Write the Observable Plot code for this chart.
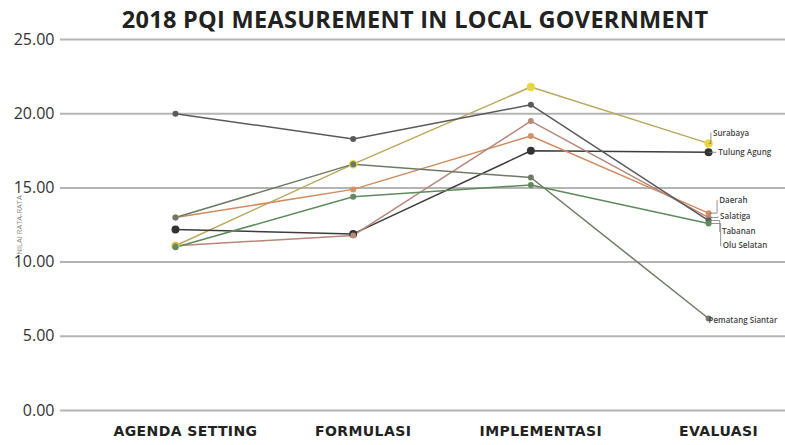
<!DOCTYPE html>
<html>
<head>
<meta charset="utf-8">
<script src="https://cdn.jsdelivr.net/npm/d3@7"></script>
<script src="https://cdn.jsdelivr.net/npm/@observablehq/plot@0.6"></script>
<style>
  body { margin: 0; background: #fff; width: 785px; height: 445px; overflow: hidden; }
  #title { height: 28px; line-height: 28px; font-family: "Open Sans", sans-serif; font-weight: 700; font-size: 23.5px; color: #222; text-align: center; padding-left: 45px; box-sizing: border-box; width: 785px; white-space: nowrap; position: relative; top: 5px; letter-spacing: 0.3px; }
  #chart svg g[aria-label="x-axis tick label"] text { font-family: "DejaVu Sans", sans-serif; letter-spacing: 0.4px; }
</style>
</head>
<body>
<div id="title">2018 PQI MEASUREMENT IN LOCAL GOVERNMENT</div>
<div id="chart"></div>
<script>
// ---- data ----
const categories = ["AGENDA SETTING", "FORMULASI", "IMPLEMENTASI", "EVALUASI"];
const yTicks = [0, 5, 10, 15, 20, 25];
const seriesNames = ["Surabaya", "Tulung Agung", "Daerah", "Salatiga", "Tabanan", "Olu Selatan", "Pematang Siantar"];
const surabaya        = [11.1, 16.6, 21.8, 18.0];
const tulungAgung     = [12.2, 11.9, 17.5, 17.4];
const daerah          = [13.0, 14.9, 18.5, 13.3];
const salatiga        = [11.1, 11.8, 19.5, 13.0];
const tabanan         = [20.0, 18.3, 20.6, 12.8];
const oluSelatan      = [11.0, 14.4, 15.2, 12.6];
const pematangSiantar = [13.0, 16.6, 15.7, 6.2];
// label anchor values (data units) for the right-hand annotations
const labelAt = [18.7, 17.4, 14.15, 13.05, 12.05, 11.1, 6.1];

// ---- styling ----
const seriesValues = [surabaya, tulungAgung, daerah, salatiga, tabanan, oluSelatan, pematangSiantar];
const lineColors = ["#b9a85e", "#3c3c3c", "#cf8c62", "#b5877a", "#5a5a5a", "#5f8a5c", "#6f7a66"];
const dotColors  = ["#e6d640", "#333333", "#d79060", "#b88a7c", "#5a5a5a", "#5f8a5c", "#6f7a66"];
const dotR       = [4, 3.5, 2, 2, 2, 2, 2];
const labelDx    = [0.025, 0.055, 0.06, 0.065, 0.075, 0.08, 0.0];

const rows = [];
seriesNames.forEach((name, s) => {
  seriesValues[s].forEach((v, i) => rows.push({name, s, i, value: v}));
});
const labels = seriesNames.map((name, s) => ({
  name, s, end: seriesValues[s][3], at: labelAt[s], lx: 3 + labelDx[s]
}));
const leaders = [];
labels.forEach(l => {
  if (l.s === 6) return;
  leaders.push({s: l.s, x: 3.003, y: l.end});
  leaders.push({s: l.s, x: l.lx - 0.012, y: l.at});
});

const chart = Plot.plot({
  width: 785,
  height: 417,
  marginTop: 11,
  marginBottom: 35,
  marginLeft: 60,
  marginRight: 0,
  style: { fontFamily: "Open Sans, sans-serif", background: "#fff", overflow: "visible" },
  x: { type: "linear", domain: [-0.647, 3.433], label: null },
  y: { domain: [0, 25], label: null },
  marks: [
    Plot.ruleY(yTicks, { stroke: "#b4b4b4", strokeWidth: 2 }),
    Plot.line(rows, { x: "i", y: "value", z: "name", stroke: d => lineColors[d.s], strokeWidth: 1.5 }),
    Plot.dot(rows, { x: "i", y: "value", r: d => dotR[d.s], fill: d => dotColors[d.s], stroke: "none" }),
    Plot.line(leaders, { x: "x", y: "y", z: "s", stroke: "#777", strokeWidth: 0.8, curve: "step-after" }),
    Plot.text(labels, { x: "lx", y: "at", text: "name", textAnchor: "start", fontSize: 8, fill: "#444", fontWeight: 600 }),
    Plot.axisY({ ticks: yTicks, tickFormat: d3.format(".2f"), tickSize: 0, tickPadding: 6, fontSize: 16, fill: "#333" }),
    Plot.axisX({ ticks: [0, 1, 2, 3], tickFormat: i => categories[i], tickSize: 0, tickPadding: 16, dx: 10, fontSize: 14, fontWeight: 700, fill: "#222" }),
    Plot.text(["NILAI RATA-RATA"], { frameAnchor: "left", textAnchor: "middle", rotate: -90, dx: -41, fontSize: 7.5, fill: "#888" })
  ]
});
document.getElementById("chart").appendChild(chart);
</script>
</body>
</html>
